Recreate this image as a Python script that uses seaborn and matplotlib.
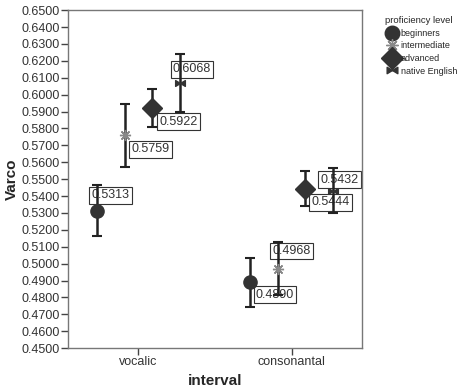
import numpy as np
import pandas as pd
import matplotlib
matplotlib.use("Agg")
import matplotlib.pyplot as plt
import seaborn as sns
from matplotlib.path import Path
from matplotlib.lines import Line2D

intervals = ["vocalic", "consonantal"]
levels = ["beginners", "intermediate", "advanced", "native English"]

means = {
    "beginners": [0.5313, 0.4890],
    "intermediate": [0.5759, 0.4968],
    "advanced": [0.5922, 0.5444],
    "native English": [0.6068, 0.5432],
}
lower = {
    "beginners": [0.5166, 0.4744],
    "intermediate": [0.5572, 0.4815],
    "advanced": [0.5811, 0.5340],
    "native English": [0.5898, 0.5297],
}
upper = {
    "beginners": [0.5466, 0.5036],
    "intermediate": [0.5946, 0.5130],
    "advanced": [0.6033, 0.5550],
    "native English": [0.6238, 0.5567],
}

rows = []
for lev in levels:
    for i, iv in enumerate(intervals):
        rows.append({"interval": iv, "level": lev, "Varco": means[lev][i],
                     "lo": lower[lev][i], "hi": upper[lev][i]})
df = pd.DataFrame(rows)

sns.set_theme(style="white")
plt.rcParams["font.family"] = ["Liberation Sans", "DejaVu Sans"]

bowtie = Path([(-1, -0.6), (0, 0), (-1, 0.6), (-1, -0.6),
               (1, -0.6), (0, 0), (1, 0.6), (1, -0.6)],
              [Path.MOVETO, Path.LINETO, Path.LINETO, Path.CLOSEPOLY,
               Path.MOVETO, Path.LINETO, Path.LINETO, Path.CLOSEPOLY])

style = {
    "beginners": dict(marker="o", ms=9.5, mfc="#333333", mec="#333333"),
    "intermediate": dict(marker=(8, 2, 0), ms=8, mfc="#999999", mec="#888888"),
    "advanced": dict(marker="D", ms=10, mfc="#333333", mec="#333333"),
    "native English": dict(marker=bowtie, ms=7, mfc="#333333", mec="#333333"),
}
offsets = dict(zip(levels, [-0.27, -0.09, 0.09, 0.27]))

# label offsets in points (dx, dy) relative to point
lab_off = {
    ("beginners", 0): (-4, 11), ("intermediate", 0): (5, -10),
    ("advanced", 0): (5, -10), ("native English", 0): (-5, 10),
    ("beginners", 1): (4, -9), ("intermediate", 1): (-4, 13),
    ("advanced", 1): (4, -10), ("native English", 1): (-9, 8),
}

fig = plt.figure(figsize=(4.59, 3.92), dpi=100)
ax = fig.add_axes([0.148, 0.112, 0.641, 0.862])

for lev in levels:
    d = df[df["level"] == lev]
    xs = np.arange(len(intervals)) + offsets[lev]
    ax.errorbar(xs, d["Varco"], yerr=[d["Varco"] - d["lo"], d["hi"] - d["Varco"]],
                fmt="none", ecolor="#222222", elinewidth=1.8, capsize=3.5,
                capthick=1.5, zorder=3)
    st = style[lev]
    ax.plot(xs, d["Varco"], linestyle="none", marker=st["marker"], markersize=st["ms"],
            markerfacecolor=st["mfc"], markeredgecolor=st["mec"], zorder=4)
    for i, (x, y) in enumerate(zip(xs, d["Varco"])):
        dx, dy = lab_off[(lev, i)]
        ax.annotate(f"{y:.4f}", (x, y), xytext=(dx, dy), textcoords="offset points",
                    ha="left", va="center", fontsize=9, color="#333333", zorder=2,
                    bbox=dict(boxstyle="square,pad=0.18", fc="white", ec="#333333", lw=0.8))

ax.set_xlim(-0.46, 1.46)
ax.set_ylim(0.45, 0.65)
ax.set_xticks(range(len(intervals)))
ax.set_xticklabels(intervals)
ax.set_yticks(np.arange(0.45, 0.6501, 0.01))
ax.set_yticklabels([f"{v:.4f}" for v in np.arange(0.45, 0.6501, 0.01)])
ax.tick_params(axis="both", direction="out", length=5, width=1, color="#444444",
               labelsize=9, labelcolor="#333333", left=True, bottom=True, pad=1)
ax.set_xlabel("interval", fontsize=11, fontweight="bold", labelpad=4)
ax.set_ylabel("Varco", fontsize=11, fontweight="bold", labelpad=2)
for sp in ax.spines.values():
    sp.set_color("#777777")
    sp.set_linewidth(1)

handles = []
for lev in levels:
    st = style[lev]
    handles.append(Line2D([], [], linestyle="none", marker=st["marker"],
                          markersize=st["ms"] * 1.1, markerfacecolor=st["mfc"],
                          markeredgecolor=st["mec"], label=lev))
leg = fig.legend(handles=handles, title="proficiency level", loc="upper left",
                 bbox_to_anchor=(0.830, 0.968), frameon=False, fontsize=6.5,
                 title_fontsize=6.8, handletextpad=0.2, labelspacing=0.4,
                 borderaxespad=0, handlelength=1.6)
leg._legend_box.align = "left"

fig.savefig("out.png", dpi=100)
